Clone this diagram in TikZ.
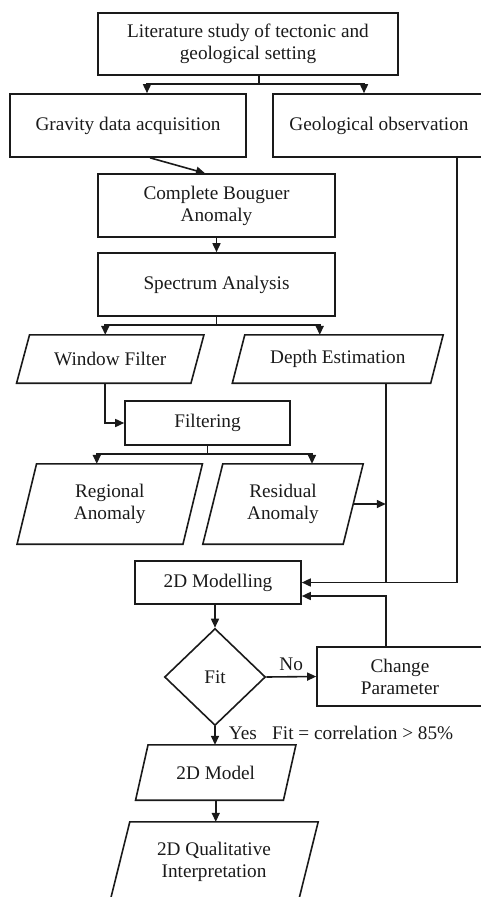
\documentclass[tikz,border=0pt]{standalone}
\usepackage{fontspec}
\setmainfont{Liberation Serif}
\usetikzlibrary{arrows.meta,shapes.geometric,calc}
\definecolor{ink}{HTML}{1A1A1A}

\tikzset{
  base/.style={font=\fontsize{19.25}{22}\selectfont, text=ink, align=center, inner sep=0pt},
  edge/.style={draw=ink, line width=1.6pt},
  arr/.style={edge, -{Triangle[length=9pt,width=8pt]}},
  procbox/.style={base, rectangle, edge},
  ionode/.style={base, rectangle},
  decision/.style={base, diamond, edge, aspect=1, minimum width=101pt, minimum height=97pt},
}

% parallelogram drawn around a text node: #1 node name, #2 horizontal slant
\newcommand\slantbox[2]{%
  \draw[edge] ([xshift=-#2/2]#1.south west) -- ([xshift=-#2/2]#1.south east)
    -- ([xshift=#2/2]#1.north east) -- ([xshift=#2/2]#1.north west) -- cycle;}

\begin{document}
\begin{tikzpicture}[x=1pt,y=-1pt]
\useasboundingbox (0,0) rectangle (480,897);

% process steps
\node[procbox, minimum width=300pt, minimum height=62pt] (lit) at (248,44)
  {Literature study of tectonic and\\geological setting};
\node[procbox, minimum width=236pt, minimum height=63pt] (grav) at (128,125.5)
  {Gravity data acquisition};
\node[procbox, minimum width=212pt, minimum height=63pt] (geo) at (379,125.5)
  {Geological observation};
\node[procbox, minimum width=237pt, minimum height=63pt] (cba) at (216.5,205.5)
  {Complete Bouguer\\Anomaly};
\node[procbox, minimum width=237pt, minimum height=63pt] (spec) at (216.5,284.5)
  {Spectrum Analysis};
\node[ionode, minimum width=174pt, minimum height=48pt] (wf) at (110.25,359)
  {Window Filter};
\node[ionode, minimum width=198pt, minimum height=48pt] (de) at (337.75,359)
  {Depth Estimation};
\node[procbox, minimum width=165pt, minimum height=44pt] (filt) at (207.5,423)
  {Filtering};
\node[ionode, minimum width=165.5pt, minimum height=80pt] (reg) at (109.75,504)
  {Regional\\Anomaly};
\node[ionode, minimum width=140pt, minimum height=80pt] (res) at (283,504)
  {Residual\\Anomaly};
\node[procbox, minimum width=166pt, minimum height=43pt] (mod) at (218,582.5)
  {2D Modelling};
\node[decision] (fit) at (215,677) {Fit};
\node[procbox, minimum width=166pt, minimum height=59pt] (chg) at (400,676.5)
  {Change\\Parameter};
\node[ionode, minimum width=147.5pt, minimum height=55pt] (mdl) at (215.75,772.5)
  {2D Model};
\node[ionode, minimum width=188pt, minimum height=80pt] (qual) at (214,862)
  {2D Qualitative\\Interpretation};

% data parallelograms
\slantbox{wf}{13}
\slantbox{de}{12.5}
\slantbox{reg}{19.5}
\slantbox{res}{20}
\slantbox{mdl}{12.5}
\slantbox{qual}{20}

% literature study splits into the two surveys
\coordinate (j1) at (259,84);
\draw[edge] (lit.south -| j1) -- (j1);
\draw[arr] (j1) -| ([xshift=19pt]grav.north);
\draw[arr] (j1) -| ([xshift=-15pt]geo.north);

% gravity chain
\draw[arr] ([xshift=22pt]grav.south) -- ([xshift=-11.5pt]cba.north);
\draw[arr] (cba.south) -- (spec.north);

% spectrum analysis splits
\coordinate (j2) at ([yshift=-8pt]spec.south);
\draw[edge] (spec.south) -- (j2);
\draw[arr] (j2) -| ([xshift=-5pt]wf.north);
\draw[arr] (j2) -| ([xshift=-18pt]de.north);

% window filter feeds filtering
\draw[arr] ([xshift=-5pt]wf.south) |- (filt.west);

% filtering splits
\coordinate (j3) at ([yshift=-8pt]filt.south);
\draw[edge] (filt.south) -- (j3);
\draw[arr] (j3) -| ([xshift=-13pt]reg.north);
\draw[arr] (j3) -| ([xshift=29pt]res.north);

% inputs to 2D modelling
\coordinate (dv) at ([xshift=48pt]de.south);
\draw[arr] (dv) |- (mod.east);
\draw[arr] (res.east) -- (res.east -| dv);
\draw[edge] ([xshift=78pt]geo.south) |- (dv |- mod.east);
\draw[arr] ([xshift=-14pt]chg.north) |- ([yshift=-13.5pt]mod.east);

% fit test loop
\draw[arr] (fit.north |- mod.south) -- (fit.north);
\draw[arr] (fit.east) -- (chg.west) node[base, midway, above=5pt] {No};
\draw[arr] (fit.south) -- (mdl.north -| fit.south)
  node[base, midway, anchor=west, xshift=13pt, yshift=2pt] (yes) {Yes};
\node[base, anchor=west] (note) at (272,733) {Fit = correlation > 85\%};

% final interpretation
\draw[arr] (mdl.south) -- (mdl.south |- qual.north);
\end{tikzpicture}
\end{document}
